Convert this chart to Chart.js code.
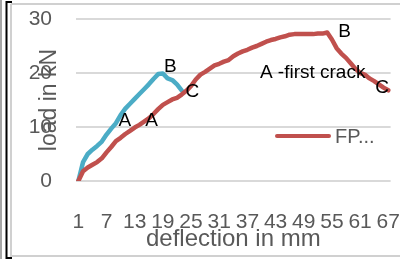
<!DOCTYPE html>
<html>
<head>
<meta charset="utf-8">
<script src="https://cdn.jsdelivr.net/npm/chart.js@4"></script>
<style>
  html, body { margin: 0; padding: 0; background: #fff; }
  #wrap { width: 400px; height: 259px; }
</style>
</head>
<body>
<div id="wrap"><canvas id="myChart" width="400" height="259"></canvas></div>
<script>
// deflection categories 1..67
const categories = [];
for (let i = 1; i <= 67; i++) categories.push(String(i));

// red series (FP...)
const fpLoad = [
  0, 1.8, 2.5, 3.0, 3.5, 4.2, 5.3, 6.3, 7.4, 8.0,
  8.7, 9.3, 9.9, 10.4, 11.0, 11.6, 12.4, 13.3, 14.1, 14.6,
  15.1, 15.4, 16.0, 16.7, 17.6, 18.8, 19.7, 20.2, 20.8, 21.4,
  21.7, 22.1, 22.4, 23.1, 23.6, 24.0, 24.3, 24.7, 25.0, 25.4,
  25.8, 26.1, 26.3, 26.6, 26.8, 27.1, 27.2, 27.2, 27.2, 27.2,
  27.2, 27.3, 27.3, 27.5, 26.2, 24.6, 23.6, 22.8, 21.8, 20.8,
  20.0, 19.7, 19.0, 18.5, 17.9, 17.3, 16.8
];

// blue series (no legend entry)
const plainLoad = [
  0, 3.5, 5.0, 5.8, 6.5, 7.3, 8.6, 9.7, 10.7, 12.2,
  13.4, 14.3, 15.2, 16.1, 17.0, 17.9, 18.9, 19.8, 19.9, 19.0,
  18.7, 17.9, 16.8
];

const yTicks = [0, 10, 20, 30];

// text notes, placed in data space (category index, load)
const notes = [
  { text: "A", i: 9.9, v: 11.1 },
  { text: "A", i: 15.6, v: 11.1 },
  { text: "B", i: 19.6, v: 21.1 },
  { text: "C", i: 24.3, v: 16.5 },
  { text: "B", i: 56.7, v: 27.6 },
  { text: "C", i: 64.7, v: 17.2 },
  { text: "A -first crack", i: 49.9, v: 20.0 }
];

const FONT = "'Liberation Sans', Arial, sans-serif";
const GRAY = "#595959";
const RED = "#C0504D";
const BLUE = "#4BACC6";
const NONE = "rgba(0,0,0,0)";

// frame lines round the chart
const framePlugin = {
  id: "frame",
  beforeDraw(chart) {
    const c = chart.ctx;
    c.save();
    c.strokeStyle = "#a6a6a6";
    c.lineWidth = 2;
    c.beginPath(); c.moveTo(1, 0); c.lineTo(1, 259); c.stroke();
    c.strokeStyle = "#d0d0d0";
    c.lineWidth = 2;
    c.beginPath(); c.moveTo(11, 4); c.lineTo(400, 4); c.stroke();
    c.beginPath(); c.moveTo(11, 4); c.lineTo(11, 256); c.lineTo(400, 256); c.stroke();
    c.strokeStyle = "#000";
    c.lineWidth = 2;
    c.beginPath(); c.moveTo(12, 2); c.lineTo(6.5, 2); c.lineTo(6.5, 258); c.lineTo(12, 258); c.stroke();
    c.restore();
  }
};

// A/B/C notes and the single legend entry
const notesPlugin = {
  id: "notes",
  afterDraw(chart) {
    const c = chart.ctx;
    const xs = chart.scales.x, ys = chart.scales.y;
    c.save();
    c.font = "19px " + FONT;
    c.fillStyle = "#000";
    c.textAlign = "center";
    c.textBaseline = "middle";
    notes.forEach(n => {
      c.fillText(n.text, xs.getPixelForValue(n.i), ys.getPixelForValue(n.v));
    });
    // legend
    const ds = chart.data.datasets[0];
    c.strokeStyle = ds.borderColor;
    c.lineWidth = 4;
    c.lineCap = "round";
    c.beginPath(); c.moveTo(277, 136); c.lineTo(329, 136); c.stroke();
    c.fillStyle = GRAY;
    c.textAlign = "left";
    c.font = "20px " + FONT;
    c.fillText(ds.label, 335, 137);
    c.restore();
  }
};

const data = {
  labels: categories,
  datasets: [
    {
      label: "FP...",
      data: fpLoad,
      borderColor: RED,
      borderWidth: 4.5,
      pointRadius: 0,
      tension: 0,
      borderCapStyle: "round",
      borderJoinStyle: "round"
    },
    {
      label: "plain",
      data: plainLoad,
      borderColor: BLUE,
      borderWidth: 4.5,
      pointRadius: 0,
      tension: 0,
      borderCapStyle: "round",
      borderJoinStyle: "round"
    }
  ]
};

const config = {
  type: "line",
  data: data,
  options: {
    responsive: false,
    animation: false,
    layout: { padding: { left: 12, top: 19, right: 8, bottom: 0 } },
    plugins: { legend: { display: false }, tooltip: { enabled: false } },
    scales: {
      x: {
        offset: true,
        grid: { drawOnChartArea: false, color: NONE, tickColor: NONE, drawTicks: true, tickLength: 29 },
        border: { display: false },
        ticks: {
          autoSkip: false,
          maxRotation: 0,
          padding: 0,
          color: GRAY,
          font: { family: FONT, size: 21 },
          callback: function (val, idx) {
            return idx % 6 === 0 ? categories[idx] : "";
          }
        },
        title: {
          display: true,
          text: "deflection in mm",
          color: GRAY,
          font: { family: FONT, size: 24 },
          padding: { top: 0, bottom: 5 }
        },
        afterFit(scale) { scale.height = 78; }
      },
      y: {
        min: 0,
        max: 30,
        grid: { color: "#d9d9d9", lineWidth: 2, drawTicks: true, tickLength: 24, tickColor: NONE },
        border: { display: false },
        afterBuildTicks(scale) { scale.ticks = yTicks.map(v => ({ value: v })); },
        ticks: {
          padding: 0,
          color: GRAY,
          font: { family: FONT, size: 21 }
        },
        title: {
          display: true,
          text: "load in kN",
          color: GRAY,
          font: { family: FONT, size: 23 },
          padding: { top: 24, bottom: 0 }
        },
        afterFit(scale) { scale.width = 64; }
      }
    }
  },
  plugins: [framePlugin, notesPlugin]
};

const ctx = document.getElementById("myChart");
new Chart(ctx, config);
</script>
</body>
</html>
